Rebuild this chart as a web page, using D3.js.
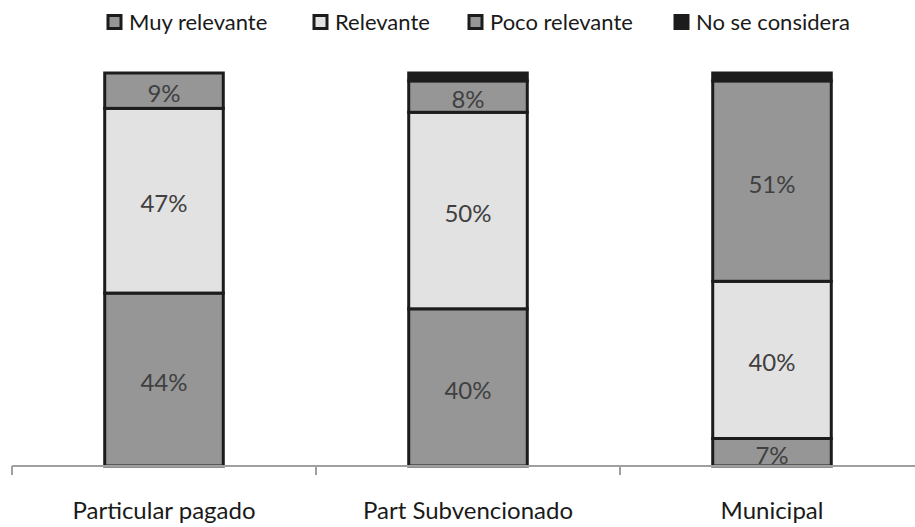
<!DOCTYPE html>
<html>
<head>
<meta charset="utf-8">
<script src="https://cdn.jsdelivr.net/npm/d3@7/dist/d3.min.js"></script>
<style>
  html, body { margin: 0; padding: 0; background: #fff; }
  svg { display: block; }
  text { font-family: Lato, "Open Sans", sans-serif; }
</style>
</head>
<body>
<script>
// Tipo de establecimiento
const categories = ["Particular pagado", "Part Subvencionado", "Municipal"];
const seriesNames = ["Muy relevante", "Relevante", "Poco relevante", "No se considera"];
// Porcentajes por serie (orden de apilado de abajo hacia arriba)
const muyRelevante   = [44, 40, 7];
const relevante      = [47, 50, 40];
const pocoRelevante  = [9, 8, 51];
const noSeConsidera  = [0, 2, 2];
const yTicks = [0, 100];

const colors = ["#969696", "#e2e2e2", "#969696", "#1c1c1c"];

const W = 915, H = 527;
const margin = { left: 12, right: -9, top: 73, bottom: 61 };

const svg = d3.select("body").append("svg")
  .attr("width", W).attr("height", H);

const rows = categories.map((c, i) => ({
  cat: c,
  "Muy relevante": muyRelevante[i],
  "Relevante": relevante[i],
  "Poco relevante": pocoRelevante[i],
  "No se considera": noSeConsidera[i]
}));

const stack = d3.stack().keys(seriesNames)(rows);

const x = d3.scaleBand()
  .domain(categories)
  .range([margin.left, W - margin.right])
  .paddingInner(0.61).paddingOuter(0.305);

const y = d3.scaleLinear()
  .domain(d3.extent(yTicks))
  .range([H - margin.bottom, margin.top]);

// Barras apiladas
const layers = svg.append("g").selectAll("g")
  .data(stack).join("g")
  .attr("fill", (d, i) => colors[i]);

layers.selectAll("rect")
  .data(d => d.filter(s => s[1] - s[0] > 0))
  .join("rect")
  .attr("x", d => x(d.data.cat))
  .attr("y", d => y(d[1]))
  .attr("width", x.bandwidth())
  .attr("height", d => y(d[0]) - y(d[1]))
  .attr("stroke", "#1c1c1c")
  .attr("stroke-width", 3);

// Etiquetas de valores
stack.forEach((layer, li) => {
  if (li === 3) return;
  svg.append("g").selectAll("text")
    .data(layer.filter(s => s[1] - s[0] > 0))
    .join("text")
    .attr("x", d => x(d.data.cat) + x.bandwidth() / 2)
    .attr("y", d => (y(d[0]) + y(d[1])) / 2)
    .attr("dy", "0.48em")
    .attr("text-anchor", "middle")
    .attr("font-size", 24)
    .attr("fill", "#404040")
    .text(d => Math.round(d[1] - d[0]) + "%");
});

// Eje de categorías
const axisY = H - margin.bottom;
const axisG = svg.append("g").attr("transform", `translate(0,${axisY})`);
axisG.append("line")
  .attr("x1", margin.left).attr("x2", W)
  .attr("stroke", "#a0a0a0").attr("stroke-width", 2);
const step = x.step();
const tickXs = d3.range(categories.length + 1).map(i => x.range()[0] + i * step);
axisG.selectAll("line.tick")
  .data(tickXs).join("line").attr("class", "tick")
  .attr("x1", d => d).attr("x2", d => d)
  .attr("y1", 0).attr("y2", 9)
  .attr("stroke", "#a0a0a0").attr("stroke-width", 2);
axisG.selectAll("text")
  .data(categories).join("text")
  .attr("x", d => x(d) + x.bandwidth() / 2)
  .attr("y", 53)
  .attr("text-anchor", "middle")
  .attr("font-size", 24)
  .attr("fill", "#1a1a1a")
  .text(d => d);

// Leyenda
const legendX = [107, 313, 468, 674];
const legend = svg.append("g").selectAll("g")
  .data(seriesNames).join("g")
  .attr("transform", (d, i) => `translate(${legendX[i]},22)`);
legend.append("rect")
  .attr("x", 1).attr("y", -6.5)
  .attr("width", 13).attr("height", 13)
  .attr("fill", (d, i) => colors[i])
  .attr("stroke", "#1c1c1c").attr("stroke-width", 3);
legend.append("text")
  .attr("x", 22).attr("y", 8)
  .attr("font-size", 22)
  .attr("fill", "#1a1a1a")
  .text(d => d);
</script>
</body>
</html>
